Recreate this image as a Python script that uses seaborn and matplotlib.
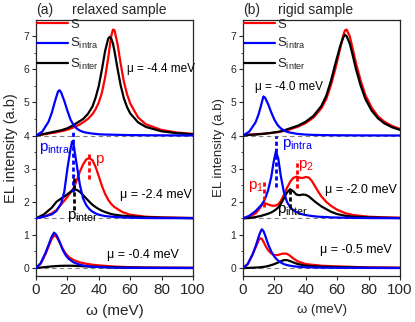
import numpy as np
import pandas as pd
import matplotlib
matplotlib.use("Agg")
import matplotlib.pyplot as plt
from matplotlib.ticker import MultipleLocator
import seaborn as sns

### data (values above each baseline)
# panel (a) relaxed sample
a_top_base = 4.0
a_top_x = [0, 4, 8, 10, 12, 14, 15, 16, 18, 20, 22, 24, 26, 28, 30, 33, 36, 38, 40, 42, 44, 46, 47, 48, 49, 50,
           52, 54, 56, 58, 60, 65, 70, 80, 90, 100]
a_top_S = [0, 0.03, 0.06, 0.08, 0.09, 0.11, 0.12, 0.13, 0.15, 0.18, 0.21, 0.25, 0.29, 0.34, 0.4, 0.5, 0.65, 0.8,
           1.0, 1.3, 1.75, 2.35, 2.7, 3.02, 3.2, 3.18, 2.75, 2.15, 1.62, 1.25, 0.97, 0.55, 0.34, 0.17, 0.09, 0.05]
a_top_intra = [0, 0.12, 0.42, 0.68, 1.02, 1.33, 1.37, 1.3, 1.05, 0.75, 0.48, 0.31, 0.21, 0.15, 0.11, 0.08, 0.06,
               0.05, 0.04, 0.035, 0.03, 0.03, 0.028, 0.027, 0.026, 0.025, 0.023, 0.02, 0.018, 0.016, 0.015, 0.012,
               0.01, 0.007, 0.005, 0.004]
a_top_inter = [0, 0.04, 0.08, 0.1, 0.12, 0.14, 0.15, 0.16, 0.19, 0.22, 0.27, 0.32, 0.38, 0.44, 0.5, 0.65, 0.88,
               1.15, 1.5, 2.0, 2.55, 2.93, 2.98, 2.92, 2.78, 2.55, 2.0, 1.5, 1.12, 0.86, 0.67, 0.4, 0.26, 0.13,
               0.07, 0.04]

a_mid_base = 1.5
a_mid_x = [0, 5, 10, 13, 16, 18, 20, 22, 23, 24, 26, 28, 30, 32, 34, 36, 38, 40, 42, 44, 46, 48, 50, 55, 60, 70,
           80, 100]
a_mid_S = [0, 0.05, 0.15, 0.25, 0.42, 0.53, 0.65, 0.78, 0.85, 0.92, 1.15, 1.42, 1.63, 1.78, 1.82, 1.75, 1.55,
           1.27, 0.98, 0.74, 0.56, 0.43, 0.34, 0.19, 0.11, 0.05, 0.03, 0.01]
a_mid_intra = [0, 0.05, 0.12, 0.22, 0.45, 0.8, 1.5, 2.1, 2.32, 2.22, 1.6, 1.0, 0.6, 0.4, 0.28, 0.2, 0.15, 0.11,
               0.09, 0.07, 0.06, 0.05, 0.045, 0.03, 0.02, 0.01, 0.008, 0.005]
a_mid_inter = [0, 0.12, 0.32, 0.5, 0.6, 0.66, 0.73, 0.8, 0.84, 0.87, 0.86, 0.8, 0.7, 0.6, 0.5, 0.41, 0.34, 0.28,
               0.23, 0.19, 0.16, 0.13, 0.11, 0.08, 0.06, 0.035, 0.02, 0.01]

a_bot_base = 0.0
a_bot_x = [0, 3, 6, 8, 10, 11.5, 13, 15, 17, 19, 21, 24, 28, 32, 36, 40, 50, 60, 70, 80, 100]
a_bot_S = [0, 0.13, 0.42, 0.65, 0.88, 0.98, 0.95, 0.78, 0.58, 0.43, 0.33, 0.24, 0.17, 0.13, 0.1, 0.08, 0.045,
           0.025, 0.015, 0.01, 0.005]
a_bot_intra = [0, 0.15, 0.45, 0.7, 0.95, 1.07, 1.0, 0.8, 0.55, 0.38, 0.27, 0.17, 0.1, 0.06, 0.04, 0.03, 0.01,
               0.006, 0.004, 0.003, 0]
a_bot_inter = [0, 0.015, 0.03, 0.04, 0.05, 0.055, 0.06, 0.065, 0.068, 0.07, 0.07, 0.068, 0.06, 0.05, 0.04, 0.035,
               0.025, 0.015, 0.01, 0.008, 0.005]

# panel (b) rigid sample
b_top_base = 4.0
b_top_x = [0, 4, 8, 10, 12, 13, 14, 16, 18, 20, 22, 24, 27, 30, 35, 40, 45, 50, 53, 56, 59, 62, 64, 65, 66, 68,
           70, 72, 75, 78, 82, 86, 90, 95, 100]
b_top_S = [0, 0.03, 0.04, 0.05, 0.05, 0.06, 0.06, 0.07, 0.08, 0.09, 0.1, 0.12, 0.15, 0.19, 0.27, 0.38, 0.55,
           0.83, 1.1, 1.52, 2.05, 2.65, 3.05, 3.18, 3.2, 3.0, 2.6, 2.18, 1.65, 1.22, 0.84, 0.58, 0.42, 0.29, 0.2]
b_top_intra = [0, 0.12, 0.4, 0.65, 1.0, 1.18, 1.15, 0.95, 0.7, 0.48, 0.32, 0.22, 0.13, 0.09, 0.05, 0.03, 0.02,
               0.015, 0.013, 0.011, 0.01, 0.009, 0.008, 0.008, 0.008, 0.007, 0.007, 0.006, 0.006, 0.005, 0.005,
               0.004, 0.004, 0.003, 0.003]
b_top_inter = [0, 0.02, 0.03, 0.04, 0.05, 0.05, 0.06, 0.07, 0.08, 0.1, 0.11, 0.13, 0.17, 0.22, 0.3, 0.42, 0.6,
               0.9, 1.2, 1.65, 2.2, 2.72, 2.98, 3.04, 3.0, 2.78, 2.4, 2.0, 1.5, 1.1, 0.75, 0.52, 0.37, 0.25, 0.17]

b_mid_base = 1.5
b_mid_x = [0, 4, 8, 10, 12, 13, 14, 16, 18, 19.5, 21, 22.5, 24, 26, 28, 30, 32, 34, 36, 38, 40, 42, 44, 46, 48,
           50, 53, 56, 60, 65, 70, 80, 90, 100]
b_mid_S = [0, 0.05, 0.15, 0.26, 0.4, 0.46, 0.46, 0.42, 0.39, 0.38, 0.39, 0.43, 0.52, 0.7, 0.92, 1.1, 1.22, 1.26,
           1.23, 1.22, 1.25, 1.23, 1.12, 0.96, 0.8, 0.66, 0.5, 0.38, 0.26, 0.16, 0.1, 0.05, 0.03, 0.02]
b_mid_intra = [0, 0.08, 0.22, 0.32, 0.42, 0.5, 0.58, 0.85, 1.25, 1.7, 2.03, 1.8, 1.3, 0.8, 0.5, 0.34, 0.25, 0.19,
               0.15, 0.12, 0.1, 0.085, 0.07, 0.06, 0.05, 0.045, 0.04, 0.03, 0.025, 0.02, 0.015, 0.01, 0.007, 0.005]
b_mid_inter = [0, 0.01, 0.04, 0.06, 0.08, 0.1, 0.11, 0.14, 0.18, 0.22, 0.27, 0.33, 0.43, 0.6, 0.78, 0.88, 0.82,
               0.72, 0.7, 0.72, 0.71, 0.66, 0.58, 0.5, 0.43, 0.36, 0.28, 0.2, 0.13, 0.08, 0.05, 0.03, 0.02, 0.01]

b_bot_base = 0.0
b_bot_x = [0, 3, 6, 8, 10, 11, 12, 13, 14, 16, 18, 20, 22, 24, 26, 28, 30, 32, 35, 40, 50, 60, 80, 100]
b_bot_S = [0, 0.12, 0.4, 0.62, 0.84, 0.9, 0.88, 0.8, 0.7, 0.54, 0.44, 0.39, 0.39, 0.42, 0.44, 0.43, 0.37, 0.29,
           0.2, 0.12, 0.07, 0.05, 0.02, 0.01]
b_bot_intra = [0, 0.12, 0.4, 0.65, 0.95, 1.08, 1.17, 1.12, 1.0, 0.72, 0.5, 0.34, 0.24, 0.17, 0.12, 0.09, 0.07,
               0.055, 0.04, 0.025, 0.012, 0.008, 0.004, 0]
b_bot_inter = [0, 0.005, 0.01, 0.015, 0.02, 0.025, 0.03, 0.035, 0.04, 0.06, 0.09, 0.12, 0.16, 0.2, 0.24, 0.24,
               0.21, 0.17, 0.12, 0.07, 0.04, 0.03, 0.01, 0.005]

# peak markers: (x, y_low, y_high, colour)
a_marks = [(23.5, 2.3, 4.1, "blue"), (33.8, 2.7, 3.5, "red"), (24.2, 1.75, 2.8, "black")]
b_marks = [(21.2, 2.45, 4.0, "blue"), (13.4, 1.85, 2.66, "red"), (34.2, 2.42, 3.26, "red"),
           (29.7, 1.8, 2.35, "black")]

# labels: (x, y, text, colour, size)
a_labels = [(2, 3.6, r"p$_\mathregular{intra}$", "blue", 11), (37.5, 3.3, "p", "red", 11),
            (19.5, 1.55, r"p$_\mathregular{inter}$", "black", 11),
            (58, 6.0, "μ = -4.4 meV", "black", 8.5), (53.5, 2.2, "μ = -2.4 meV", "black", 9),
            (45, 0.4, "μ = -0.4 meV", "black", 9)]
b_labels = [(24.6, 3.72, r"p$_\mathregular{intra}$", "blue", 11), (34.8, 3.1, r"p$_\mathregular{2}$", "red", 11),
            (3.4, 2.45, r"p$_\mathregular{1}$", "red", 11), (21.5, 1.73, r"p$_\mathregular{inter}$", "black", 11),
            (7.6, 5.46, "μ = -4.0 meV", "black", 8.5), (52, 2.35, "μ = -2.0 meV", "black", 9),
            (49, 0.54, "μ = -0.5 meV", "black", 9)]

### style
sns.set_style("ticks")
plt.rcParams["font.family"] = ["Liberation Sans", "DejaVu Sans"]
plt.rcParams["mathtext.fontset"] = "custom"
plt.rcParams["mathtext.rm"] = "Liberation Sans"
plt.rcParams["mathtext.it"] = "Liberation Sans:italic"

fig = plt.figure(figsize=(4.15, 3.22), dpi=100)
ax_a = fig.add_axes([36 / 415, 1 - 276 / 322, 157 / 415, 256 / 322])
ax_b = fig.add_axes([243 / 415, 1 - 276 / 322, 157 / 415, 256 / 322])

groups_a = [(a_top_base, a_top_x, a_top_S, a_top_intra, a_top_inter),
            (a_mid_base, a_mid_x, a_mid_S, a_mid_intra, a_mid_inter),
            (a_bot_base, a_bot_x, a_bot_S, a_bot_intra, a_bot_inter)]
groups_b = [(b_top_base, b_top_x, b_top_S, b_top_intra, b_top_inter),
            (b_mid_base, b_mid_x, b_mid_S, b_mid_intra, b_mid_inter),
            (b_bot_base, b_bot_x, b_bot_S, b_bot_intra, b_bot_inter)]


def draw_panel(ax, groups, marks, labels, tag, title, title_x, xlab_size, ylab_size):
    for base, x, s, intra, inter in groups:
        ax.axhline(base, color="gray", lw=0.8, ls=(0, (4, 3)), zorder=1)
        df = pd.DataFrame({"w": x, "S": np.array(s) + base, "intra": np.array(intra) + base,
                           "inter": np.array(inter) + base})
        sns.lineplot(data=df, x="w", y="S", ax=ax, color="red", lw=1.6, sort=False, estimator=None, zorder=2)
        sns.lineplot(data=df, x="w", y="inter", ax=ax, color="black", lw=1.6, sort=False, estimator=None, zorder=3)
        sns.lineplot(data=df, x="w", y="intra", ax=ax, color="blue", lw=1.6, sort=False, estimator=None, zorder=4)
    for mx, y0, y1, c in marks:
        ax.plot([mx, mx], [y0, y1], color=c, lw=2, ls=(0, (1.5, 1)), zorder=5)
    for tx, ty, t, c, fs in labels:
        ax.text(tx, ty, t, color=c, fontsize=fs, ha="left", va="center", zorder=6)
    ax.set_xlim(0, 100)
    ax.set_ylim(-0.24, 7.49)
    ax.xaxis.set_major_locator(MultipleLocator(20))
    ax.yaxis.set_major_locator(MultipleLocator(1))
    ax.yaxis.set_minor_locator(MultipleLocator(0.5))
    ax.tick_params(axis="x", labelsize=11, length=3, direction="out", pad=2)
    ax.tick_params(axis="y", which="major", labelsize=7.5, length=3, direction="out", pad=2)
    ax.tick_params(axis="y", which="minor", length=1.5, direction="out")
    ax.set_xlabel("ω (meV)", fontsize=xlab_size, labelpad=5)
    ax.set_ylabel("EL intensity (a.b)", fontsize=ylab_size, labelpad=4)
    for sp in ax.spines.values():
        sp.set_linewidth(0.9)
    ax.text(0.0, 1.04, tag, transform=ax.transAxes, fontsize=10, ha="left", va="center")
    ax.text(title_x, 1.04, title, transform=ax.transAxes, fontsize=10, ha="center", va="center")
    handles = [plt.Line2D([], [], color="red", lw=1.6), plt.Line2D([], [], color="blue", lw=1.6),
               plt.Line2D([], [], color="black", lw=1.6)]
    ax.legend(handles, ["S", r"S$_\mathregular{intra}$", r"S$_\mathregular{inter}$"], loc="upper left",
              bbox_to_anchor=(0, 1.01), frameon=False, fontsize=9.5, handlelength=2.3, handletextpad=0.2,
              labelspacing=0.4, borderaxespad=0.0, borderpad=0.1)


draw_panel(ax_a, groups_a, a_marks, a_labels, "(a)", "relaxed sample", 0.53, 11, 10.5)
draw_panel(ax_b, groups_b, b_marks, b_labels, "(b)", "rigid sample", 0.46, 9.5, 9.5)

fig.savefig("out.png", dpi=100)
